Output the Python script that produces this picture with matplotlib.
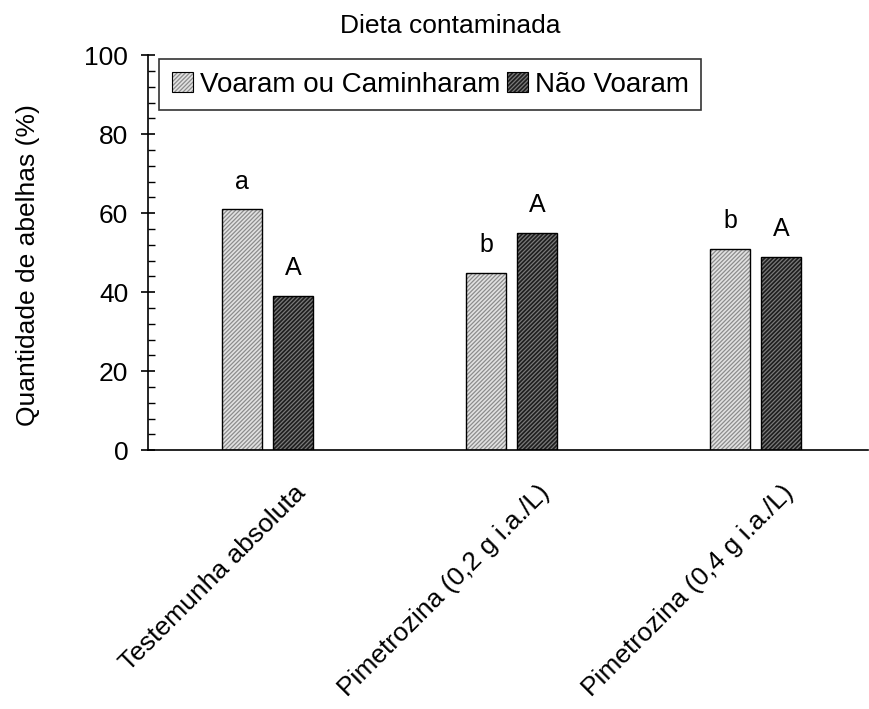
import matplotlib
matplotlib.use("Agg")
import numpy as np
import matplotlib.pyplot as plt
from matplotlib.patches import Patch
from matplotlib.legend_handler import HandlerTuple
from matplotlib.ticker import MultipleLocator
import matplotlib.transforms as mtransforms

plt.rcParams['font.family'] = ['Liberation Sans', 'DejaVu Sans']
plt.rcParams['hatch.linewidth'] = 0.9

categories = ["Testemunha absoluta", "Pimetrozina (0,2 g i.a./L)", "Pimetrozina (0,4 g i.a./L)"]
series_names = ["Voaram ou Caminharam", "Não Voaram"]
voaram = [61, 45, 51]
nao_voaram = [39, 55, 49]
letters_voaram = ["a", "b", "b"]
letters_nao = ["A", "A", "A"]

fig = plt.figure(figsize=(8.69, 7.09), dpi=100)
ax = fig.add_axes([0.170, 0.365, 0.829, 0.557])

x = np.arange(len(categories))
w = 0.164
off = 0.105
hatch = "////////"

styles = [
    dict(face="#e2e2e2", hatch_col="#8c8c8c"),
    dict(face="#1e1e1e", hatch_col="#7a7a7a"),
]

handles = []
for vals, letters, sign, st in [(voaram, letters_voaram, -1, styles[0]),
                                 (nao_voaram, letters_nao, 1, styles[1])]:
    pos = x + sign * off
    # hatched fill first, then a black outline on top
    ax.bar(pos, vals, w, color=st["face"], edgecolor=st["hatch_col"], hatch=hatch, linewidth=0)
    ax.bar(pos, vals, w, facecolor="none", edgecolor="black", linewidth=1.0)
    for p, v, t in zip(pos, vals, letters):
        ax.annotate(t, (p, v), xytext=(0, 20), textcoords="offset points",
                    ha="center", va="center", fontsize=18)
    handles.append((Patch(facecolor=st["face"], edgecolor=st["hatch_col"], hatch=hatch, linewidth=0),
                    Patch(facecolor="none", edgecolor="black", linewidth=0.8)))

ax.set_xlim(-0.49, 2.46)
ax.set_ylim(0, 100)
ax.spines["top"].set_visible(False)
ax.spines["right"].set_visible(False)
ax.spines["left"].set_linewidth(1.2)
ax.spines["bottom"].set_linewidth(1.2)

ax.yaxis.set_major_locator(MultipleLocator(20))
ax.yaxis.set_minor_locator(MultipleLocator(4))
ax.tick_params(axis="y", which="major", direction="inout", length=10, width=1.2, labelsize=19, pad=9)
ax.tick_params(axis="y", which="minor", direction="in", length=5, width=1.0)

ax.set_xticks(x)
ax.set_xticklabels(categories, rotation=45, ha="right", va="center", rotation_mode="anchor", fontsize=19)
ax.tick_params(axis="x", length=0, pad=0)
shift = mtransforms.ScaledTranslation(0.34, -0.39, fig.dpi_scale_trans)
for lab in ax.get_xticklabels():
    lab.set_transform(lab.get_transform() + shift)

fig.text(28 / 869, 1 - 265 / 709, "Quantidade de abelhas (%)", rotation=90,
         ha="center", va="center", fontsize=19)
fig.text(450 / 869, 0.963, "Dieta contaminada", ha="center", va="center", fontsize=19)

leg = ax.legend(handles, series_names, handler_map={tuple: HandlerTuple(ndivide=1, pad=0)},
                loc="upper left", bbox_to_anchor=(0.016, 0.99), ncol=2, fontsize=20,
                frameon=True, fancybox=False, edgecolor="black", handlelength=0.75,
                handleheight=0.75, handletextpad=0.25, columnspacing=0.25, borderpad=0.45,
                borderaxespad=0)
leg.get_frame().set_linewidth(1.2)

fig.savefig("out.png", dpi=100)
